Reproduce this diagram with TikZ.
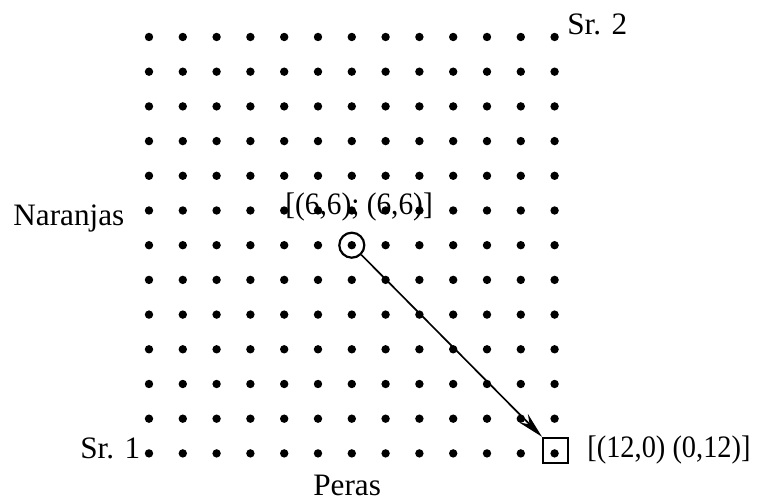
\documentclass[tikz,border=0pt]{standalone}
\usepackage{fontspec}
\setmainfont{Liberation Serif}
\usetikzlibrary{arrows.meta,calc}
\begin{document}
\begin{tikzpicture}[x=0.5pt,y=-0.5pt,
  lbl/.style={anchor=base west,inner sep=0pt,font=\fontsize{15.6}{18}\selectfont},
  gdot/.style={circle,fill=black,inner sep=0pt,minimum size=4.2pt},
  ring/.style={circle,draw,line width=1.1pt,inner sep=0pt,minimum size=12.5pt},
  boxmark/.style={rectangle,draw,line width=1.1pt,inner sep=0pt,minimum size=12.5pt},
  conn/.style={line width=0.85pt,-{Stealth[length=13pt,width=6pt]}}]
\useasboundingbox (0,0) rectangle (757,501);
\foreach \i in {0,...,12}{
  \foreach \j in {0,...,12}{
    \node[gdot] (d\i-\j) at ({149+33.8*\i},{37+34.7*\j}) {};
  }
}
\node[ring] (c) at (d6-6) {};
\node[boxmark] (s) at ($(d12-12)+(1,-3)$) {};
\draw[conn] (c) -- (s.north west);
\node[lbl] (naranjas) at (13,226) {Naranjas};
\node[lbl,xscale=0.94] (p66) at (285,215) {[(6,6); (6,6)]};
\node[lbl] (sr1) at (80,459) {Sr. 1};
\node[lbl] (peras) at (313,496) {Peras};
\node[lbl] (sr2) at (567,35) {Sr. 2};
\node[lbl,xscale=0.91] (p120) at (587,458) {[(12,0) (0,12)]};
\end{tikzpicture}
\end{document}
